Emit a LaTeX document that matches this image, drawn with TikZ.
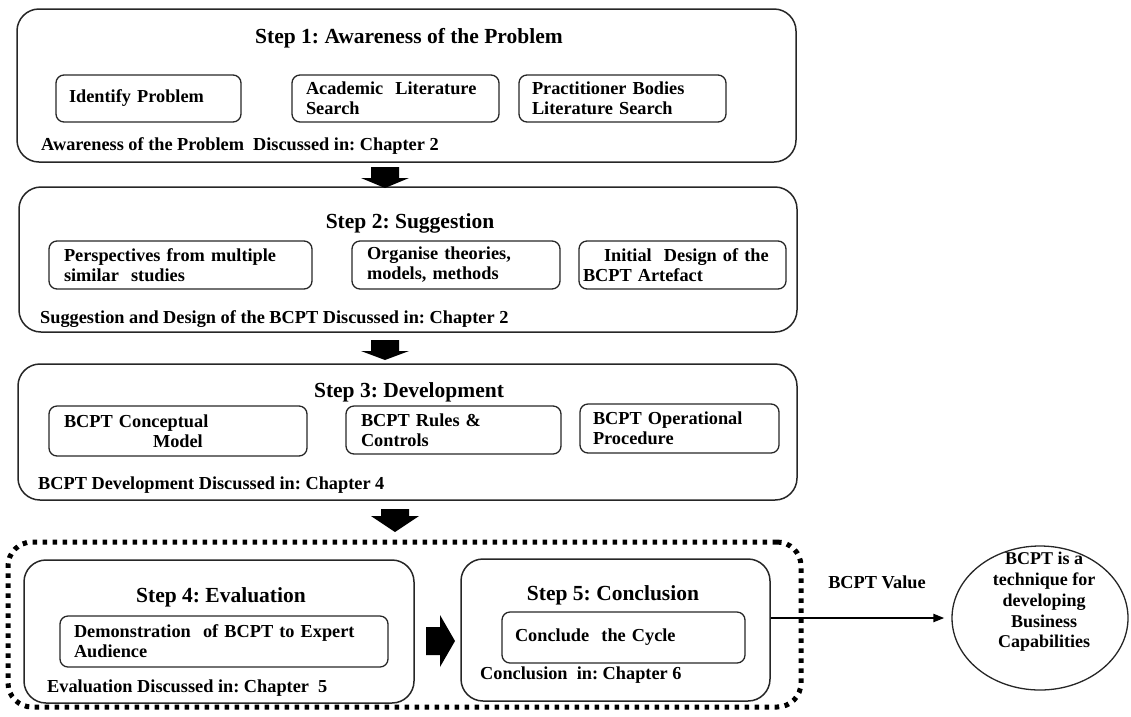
\documentclass[tikz,border=0pt]{standalone}
\usepackage{fontspec}
\setmainfont{Liberation Serif}
\usetikzlibrary{calc,shapes.geometric,arrows.meta}
\frenchspacing
\begin{document}
\begin{tikzpicture}[x=1pt,y=-1pt,
  txt/.style={font=\bfseries\fontsize{18.3}{20}\selectfont},
  ttl/.style={font=\bfseries\fontsize{21.5}{24}\selectfont},
  stage/.style={draw=black!85, line width=1.5, rounded corners=22, inner sep=0},
  sub/.style={draw=black!85, line width=1.3, rounded corners=8, inner ysep=0, align=left, txt},
  note/.style={txt, anchor=west, inner sep=0},
  grpbox/.style={draw, line width=5, dash pattern=on 4.5 off 5.5, rounded corners=24, inner sep=0},
  conn/.style={line width=2.2, -{Triangle[length=11,width=8]}},
  pics/downblock/.style 2 args={code={
    \fill (-14,0) -- (14,0) -- (14,#1) -- (24,#1) -- (0,#1+#2) -- (-24,#1) -- (-14,#1) -- cycle;}},
  pics/rightblock/.style={code={
    \fill (0,-14) -- (14,-14) -- (14,-26) -- (29,0) -- (14,26) -- (14,14) -- (0,14) -- cycle;}}
]
\useasboundingbox (0,0) rectangle (1131,716);

% ---------- Step 1 ----------
\node[stage, minimum width=779, minimum height=153] (b1) at (406.5,85.5) {};
\node[ttl] (t1) at (409,38) {Step 1: Awareness of the Problem};
\node[sub, minimum height=47, text width=159, inner xsep=13] (b1a) at (148.5,98.5) {Identify Problem};
\node[sub, minimum height=47, text width=179, inner xsep=14] (b1b) at (395.5,98.5) {Academic\ \ Literature\\Search};
\node[sub, minimum height=47, text width=181, inner xsep=13] (b1c) at (622.5,98.5) {Practitioner Bodies\\Literature Search};
\node[note] (f1) at (41,146) {Awareness of the Problem\ \ Discussed in: Chapter 2};

% ---------- Step 2 ----------
\node[stage, minimum width=778, minimum height=145] (b2) at (408,259.5) {};
\node[ttl] (t2) at (410,223) {Step 2: Suggestion};
\node[sub, minimum height=48, text width=233, inner xsep=15] (b2a) at (180.5,265) {Perspectives from multiple\\similar\ \ studies};
\node[sub, minimum height=48, text width=178, inner xsep=15] (b2b) at (456,265) {Organise theories,\\models, methods};
\node[sub, minimum height=48, text width=199, inner xsep=4] (b2c) at (682.5,265) {\hspace*{21pt}Initial\ \ Design of the\\BCPT Artefact};
\node[note] (f2) at (40,319) {Suggestion and Design of the BCPT Discussed in: Chapter 2};

% ---------- Step 3 ----------
\node[stage, minimum width=779, minimum height=136] (b3) at (407.5,432) {};
\node[ttl] (t3) at (409,392) {Step 3: Development};
\node[sub, minimum height=50, text width=228, inner xsep=15] (b3a) at (178,431) {BCPT Conceptual\\\hspace*{89pt}Model};
\node[sub, minimum height=48, text width=185, inner xsep=15] (b3b) at (453.5,430) {BCPT Rules \&\\Controls};
\node[sub, minimum height=49, text width=173, inner xsep=13] (b3c) at (679.5,428.5) {BCPT Operational\\Procedure};
\node[note] (f3) at (38,485) {BCPT Development Discussed in: Chapter 4};

% ---------- Steps 4 and 5 in a dotted group ----------
\node[grpbox, minimum width=793, minimum height=165] (grp) at (404.5,624.5) {};

\node[stage, minimum width=390, minimum height=143] (b4) at (219,631.5) {};
\node[ttl] (t4) at (221,597) {Step 4: Evaluation};
\node[sub, minimum height=51, text width=300, inner xsep=14] (b4a) at (224,641.5) {Demonstration\ \ of BCPT to Expert\\Audience};
\node[note] (f4) at (47,688) {Evaluation Discussed in: Chapter\ \ 5};

\node[stage, minimum width=309, minimum height=142] (b5) at (615.5,630) {};
\node[ttl] (t5) at (613,595) {Step 5: Conclusion};
\node[sub, minimum height=51, text width=217, inner xsep=13] (b5a) at (623.5,637.5) {Conclude\ \ the Cycle};
\node[note] (f5) at (480,675) {Conclusion\ \ in: Chapter 6};

% ---------- outcome ----------
\node[draw=black!85, ellipse, line width=1.3, minimum width=176, minimum height=144, inner sep=0] (ell) at (1040,618) {};
\node[align=center, font=\bfseries\fontsize{18}{20.7}\selectfont] (elltxt) at (1044,602) {BCPT is a\\technique for\\developing\\Business\\Capabilities};
\node[txt] (bv) at (877,582) {BCPT Value};

% ---------- block arrows between the steps ----------
\coordinate (a1) at (385,167);
\coordinate (a2) at (385,340);
\coordinate (a3) at (395,509);
\coordinate (a4) at (426,641);
\pic at (a1) {downblock={11}{10}};
\pic at (a2) {downblock={11}{9}};
\pic at (a3) {downblock={7}{16}};
\pic at (a4) {rightblock};

% ---------- value connector ----------
\draw[conn, shorten >=7] (b5.east |- ell.west) -- (ell.west);
\end{tikzpicture}
\end{document}
